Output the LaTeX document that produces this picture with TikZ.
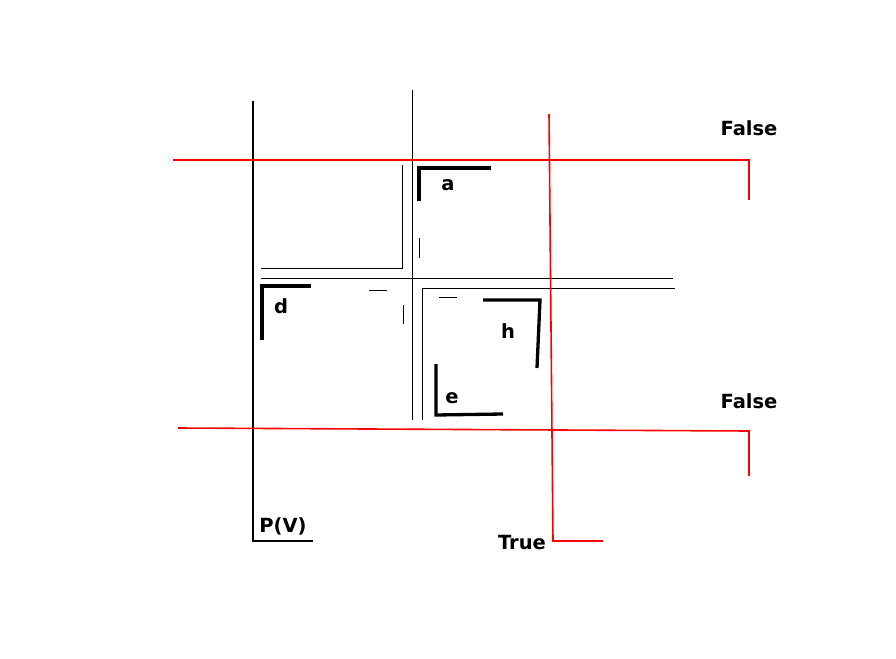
\documentclass[tikz,border=0pt]{standalone}
\usepackage{fontspec}
\setmainfont{DejaVu Sans}
\begin{document}
\begin{tikzpicture}[x=1pt,y=-1pt,
  thin/.style={black,line width=1pt},
  axis/.style={black,line width=1.5pt},
  thick/.style={black,line width=3.3pt},
  redl/.style={red,line width=1.6pt},
  lab/.style={font=\bfseries\fontsize{19.5}{19.5}\selectfont,inner sep=0pt}]
\useasboundingbox (0,0) rectangle (896,658);
% coordinates
\coordinate (L1) at (253,101);
\coordinate (L2) at (253,541);
\coordinate (L3) at (313,541);
\coordinate (M1) at (412,90);
\coordinate (M2) at (412,420);
\coordinate (H1) at (261,278);
\coordinate (H2) at (673,278);
\coordinate (UL1) at (402,165);
\coordinate (UL2) at (402,268);
\coordinate (UL3) at (261,268);
\coordinate (LR1) at (675,288);
\coordinate (LR2) at (422,288);
\coordinate (LR3) at (422,420);
% black frame lines
\draw[axis] (L1) -- (L2) -- (L3);
\draw[thin] (M1) -- (M2);
\draw[thin] (H1) -- (H2);
\draw[thin] (UL1) -- (UL2) -- (UL3);
\draw[thin] (LR1) -- (LR2) -- (LR3);
% small ticks
\coordinate (t1a) at (419,238); \coordinate (t1b) at (419,258);
\coordinate (t2a) at (369,290); \coordinate (t2b) at (387,290);
\coordinate (t3a) at (403,305); \coordinate (t3b) at (403,324);
\coordinate (t4a) at (439,297); \coordinate (t4b) at (457,297);
\draw[thin] (t1a) -- (t1b);
\draw[thin] (t2a) -- (t2b);
\draw[thin] (t3a) -- (t3b);
\draw[thin] (t4a) -- (t4b);
% thick corners
\coordinate (a1) at (419,201); \coordinate (a2) at (419,168); \coordinate (a3) at (491,168);
\coordinate (d1) at (262,340); \coordinate (d2) at (262,286); \coordinate (d3) at (311,286);
\coordinate (h1) at (483,300); \coordinate (h2) at (540,300); \coordinate (h3) at (537,368);
\coordinate (e1) at (436,364); \coordinate (e2) at (436,415); \coordinate (e3) at (503,414);
\draw[thick,line join=miter] (a1) -- (a2) -- (a3);
\draw[thick,line join=miter] (d1) -- (d2) -- (d3);
\draw[thick,line join=miter] (h1) -- (h2) -- (h3);
\draw[thick,line join=miter] (e1) -- (e2) -- (e3);
\node[lab] (la) at (448,185) {a};
\node[lab] (ld) at (281,306) {d};
\node[lab] (lh) at (508,331) {h};
\node[lab] (le) at (452,398) {e};
% red lines
\coordinate (r1) at (173,160); \coordinate (r2) at (749,160); \coordinate (r3) at (749,200);
\coordinate (v1) at (549,114); \coordinate (v2) at (553,541); \coordinate (v3) at (603,541);
\coordinate (b1) at (178,428); \coordinate (b2) at (749,431); \coordinate (b3) at (749,476);
\draw[redl] (r1) -- (r2) -- (r3);
\draw[redl] (v1) -- (v2) -- (v3);
\draw[redl] (b1) -- (b2) -- (b3);
% labels
\node[lab] (f1) at (749,128.5) {False};
\node[lab] (f2) at (749,401.5) {False};
\node[lab] (tr) at (522,542.5) {True};
\node[lab] (pv) at (283,526) {P(V)};
\end{tikzpicture}
\end{document}
